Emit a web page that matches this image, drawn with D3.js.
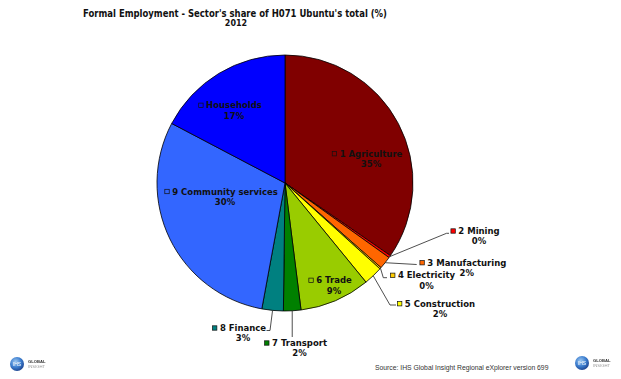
<!DOCTYPE html>
<html>
<head>
<meta charset="utf-8">
<script src="https://cdn.jsdelivr.net/npm/d3@7"></script>
<style>
  html, body { margin: 0; padding: 0; background: #fff; }
  svg { display: block; }
  .lbl { font-family: "DejaVu Sans", Verdana, sans-serif; font-weight: bold; font-size: 8.5px; fill: #111; }
</style>
</head>
<body>
<svg id="chart" width="621" height="379"></svg>
<script>
// Sector shares of formal employment, 2012 (%)
const sectors = ["1 Agriculture", "2 Mining", "3 Manufacturing", "4 Electricity", "5 Construction",
                 "6 Trade", "7 Transport", "8 Finance", "9 Community services", "Households"];
const shares = [34.6, 0.3, 1.6, 0.2, 2.4, 8.9, 2.2, 2.7, 29.8, 17.3];
const sliceColors = ["#800000", "#ff0000", "#ff6600", "#ffcc00", "#ffff00",
                     "#99cc00", "#008000", "#008080", "#3366ff", "#0000ff"];

const titleText = "Formal Employment - Sector's share of H071 Ubuntu's total (%)";
const subtitleText = "2012";
const sourceText = "Source: IHS Global Insight Regional eXplorer version 699";

// Label placement, relative to the pie centre: [dx, dy] of the text centre / first baseline.
// Outside labels carry a leader path (elbow points, relative to the centre).
const labelLayout = {
  "1 Agriculture":        { at: [86, -26.3] },
  "2 Mining":             { at: [194, 51],     leader: [[161.5, 50.3], [164, 50.3]] },
  "3 Manufacturing":      { at: [181.8, 82.7], leader: [[131.7, 81.5]] },
  "4 Electricity":        { at: [141.5, 95.3], leader: [[98.3, 94.7], [102, 94.7]] },
  "5 Construction":       { at: [155, 123.7],  leader: [[105, 122], [111, 122]] },
  "6 Trade":              { at: [49, 100.3] },
  "7 Transport":          { at: [14.5, 163],   leader: [[null, 154]] },
  "8 Finance":            { at: [-42, 148],    leader: [[-15, 147.5], [-18.5, 147.5]] },
  "9 Community services": { at: [-60, 11.5] },
  "Households":           { at: [-51, -74.7] }
};

const svg = d3.select("#chart");
const cx = 285, cy = 183, R = 128;

// Title
svg.append("text")
  .attr("x", 235).attr("y", 16.7)
  .attr("text-anchor", "middle")
  .attr("textLength", 304).attr("lengthAdjust", "spacingAndGlyphs")
  .style("font-family", "'DejaVu Sans', Verdana, sans-serif")
  .style("font-weight", "bold").style("font-size", "9.8px").style("fill", "#111")
  .text(titleText);
svg.append("text")
  .attr("x", 236).attr("y", 26)
  .attr("text-anchor", "middle")
  .style("font-family", "'DejaVu Sans', Verdana, sans-serif")
  .style("font-weight", "bold").style("font-size", "8px").style("fill", "#111")
  .text(subtitleText);

const data = sectors.map((s, i) => ({ sector: s, value: shares[i], color: sliceColors[i] }));
const pie = d3.pie().sort(null).value(d => d.value);
const arcs = pie(data);
const arc = d3.arc().innerRadius(0).outerRadius(R);

const g = svg.append("g").attr("transform", `translate(${cx},${cy})`);

g.selectAll("path.slice")
  .data(arcs)
  .join("path")
  .attr("class", "slice")
  .attr("d", arc)
  .attr("fill", d => d.data.color)
  .attr("stroke", "#000")
  .attr("stroke-width", 0.8)
  .attr("stroke-linejoin", "round");

// Leader lines for the small slices
arcs.forEach(d => {
  const lay = labelLayout[d.data.sector];
  if (!lay.leader) return;
  const mid = (d.startAngle + d.endAngle) / 2;
  const start = [R * Math.sin(mid), -R * Math.cos(mid)];
  const pts = [start].concat(lay.leader.map(p => [p[0] === null ? start[0] : p[0], p[1]]));
  g.append("path")
    .attr("d", d3.line()(pts))
    .attr("fill", "none")
    .attr("stroke", "#222")
    .attr("stroke-width", 0.8);
});

// Data labels: swatch + sector name, percentage underneath
const swatch = 4.4, gap = 3, lineGap = 10.2;
arcs.forEach(d => {
  const lay = labelLayout[d.data.sector];
  const [x, y] = lay.at;
  const t = g.append("text").attr("class", "lbl")
    .attr("x", x).attr("y", y).attr("text-anchor", "middle")
    .text(d.data.sector);
  const w = t.node().getComputedTextLength();
  g.append("rect")
    .attr("x", x - w / 2 - gap - swatch)
    .attr("y", y - 3 - swatch / 2)
    .attr("width", swatch).attr("height", swatch)
    .attr("fill", d.data.color)
    .attr("stroke", "#111").attr("stroke-width", 0.7);
  g.append("text").attr("class", "lbl")
    .attr("x", x).attr("y", y + lineGap).attr("text-anchor", "middle")
    .text(Math.round(d.data.value) + "%");
});

// Source note
svg.append("text")
  .attr("x", 375).attr("y", 370)
  .style("font-family", "'Liberation Sans', Arial, sans-serif")
  .style("font-size", "6.8px").style("fill", "#333")
  .text(sourceText);

// Publisher logos (soft-rendered)
const defs = svg.append("defs");
const grad = defs.append("radialGradient").attr("id", "orb").attr("cx", "40%").attr("cy", "35%").attr("r", "70%");
grad.append("stop").attr("offset", "0%").attr("stop-color", "#9fc8f0");
grad.append("stop").attr("offset", "55%").attr("stop-color", "#3d7fd0");
grad.append("stop").attr("offset", "100%").attr("stop-color", "#1b3f8a");
defs.append("filter").attr("id", "soft").append("feGaussianBlur").attr("stdDeviation", 0.45);

function logo(x, y) {
  const lg = svg.append("g").attr("transform", `translate(${x},${y})`).attr("filter", "url(#soft)");
  lg.append("circle").attr("cx", 0).attr("cy", 0).attr("r", 7).attr("fill", "url(#orb)");
  lg.append("text").attr("x", 0).attr("y", 1.6).attr("text-anchor", "middle")
    .style("font-family", "'Liberation Sans', Arial, sans-serif").style("font-size", "5px")
    .style("fill", "#fff").text("IHS");
  lg.append("text").attr("x", 11).attr("y", -1)
    .style("font-family", "'Liberation Sans', Arial, sans-serif").style("font-size", "4.2px")
    .style("font-weight", "bold").style("fill", "#333").text("GLOBAL");
  lg.append("text").attr("x", 11).attr("y", 3.8)
    .style("font-family", "'Liberation Sans', Arial, sans-serif").style("font-size", "4.2px")
    .style("fill", "#999").text("INSIGHT");
}
logo(17, 364);
logo(582, 363);
</script>
</body>
</html>
